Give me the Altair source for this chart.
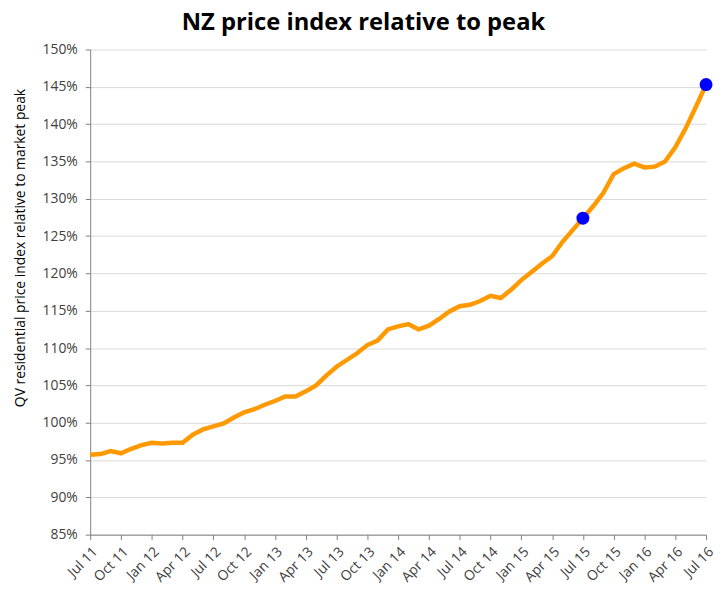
import json
import altair as alt
import pandas as pd

# Monthly index values (% of previous market peak), Jul 2011 .. Jul 2016
values = [
    95.7, 95.8, 96.2, 95.9, 96.5, 97.0, 97.3, 97.2, 97.3, 97.3,
    98.4, 99.1, 99.5, 99.9, 100.7, 101.4, 101.8, 102.4, 102.9, 103.5,
    103.5, 104.2, 105.0, 106.3, 107.5, 108.4, 109.3, 110.4, 111.0, 112.5,
    112.9, 113.2, 112.5, 113.0, 113.9, 114.9, 115.6, 115.8, 116.3, 117.0,
    116.7, 117.8, 119.1, 120.2, 121.3, 122.3, 124.2, 125.8, 127.4, 129.0,
    130.8, 133.3, 134.1, 134.7, 134.2, 134.3, 135.0, 136.9, 139.4, 142.3,
    145.3,
]
# Quarter tick labels (every third month)
quarter_labels = [
    "Jul 11", "Oct 11", "Jan 12", "Apr 12", "Jul 12", "Oct 12", "Jan 13",
    "Apr 13", "Jul 13", "Oct 13", "Jan 14", "Apr 14", "Jul 14", "Oct 14",
    "Jan 15", "Apr 15", "Jul 15", "Oct 15", "Jan 16", "Apr 16", "Jul 16",
]
# Highlighted months (index from Jul 11)
highlight_months = [48, 60]

df = pd.DataFrame({"month": list(range(len(values))), "value": values})
df_pts = df[df["month"].isin(highlight_months)]

FONT = "Open Sans"
label_expr = json.dumps(quarter_labels) + "[round(datum.value/3)]"

x_axis = alt.Axis(
    values=list(range(0, 61, 3)),
    labelExpr=label_expr,
    labelAngle=-45,
    labelAlign="right",
    labelBaseline="top",
    labelFont=FONT,
    labelFontSize=14,
    labelColor="#404040",
    labelPadding=5,
    labelFlush=False,
    labelOverlap=False,
    labelBound=False,
    grid=False,
    domainColor="#7F7F7F",
    tickColor="#7F7F7F",
    tickSize=5,
    title=None,
)
y_axis = alt.Axis(
    values=list(range(85, 151, 5)),
    labelExpr="datum.value + '%'",
    labelFont=FONT,
    labelFontSize=14,
    labelColor="#404040",
    labelPadding=8,
    labelOverlap=False,
    labelFlush=False,
    labelBound=False,
    gridColor="#D9D9D9",
    gridWidth=1,
    domainColor="#7F7F7F",
    tickColor="#7F7F7F",
    tickSize=5,
    title="QV residential price index relative to market peak",
    titleFont=FONT,
    titleFontSize=14,
    titleFontWeight="normal",
    titleColor="#000000",
    titleX=-70,
    titleY=200,
    titleAngle=-90,
    titleAlign="center",
    titleBaseline="middle",
)

x_scale = alt.Scale(domain=[0, 60], nice=False, zero=False)
y_scale = alt.Scale(domain=[85, 150], nice=False, zero=False)

line = alt.Chart(df).mark_line(color="#FF9900", strokeWidth=4.5).encode(
    x=alt.X("month:Q", scale=x_scale, axis=x_axis),
    y=alt.Y("value:Q", scale=y_scale, axis=y_axis),
)
pts = alt.Chart(df_pts).mark_circle(color="#0000FF", opacity=1, size=170).encode(
    x=alt.X("month:Q", scale=x_scale, axis=x_axis),
    y=alt.Y("value:Q", scale=y_scale, axis=y_axis),
)

chart = (
    alt.layer(line, pts)
    .properties(
        width=622,
        height=490,
        padding={"left": 83, "top": 39, "right": 7, "bottom": 53},
        autosize=alt.AutoSizeParams(type="none"),
        title=alt.TitleParams(
            "NZ price index relative to peak",
            font=FONT,
            fontSize=24,
            fontWeight="bold",
            color="#000000",
            anchor="middle",
            frame="group",
            dx=-35,
            offset=8,
        ),
    )
    .configure_view(stroke=None)
)

chart.save("out.html", embed_options={"renderer": "svg", "actions": False})
